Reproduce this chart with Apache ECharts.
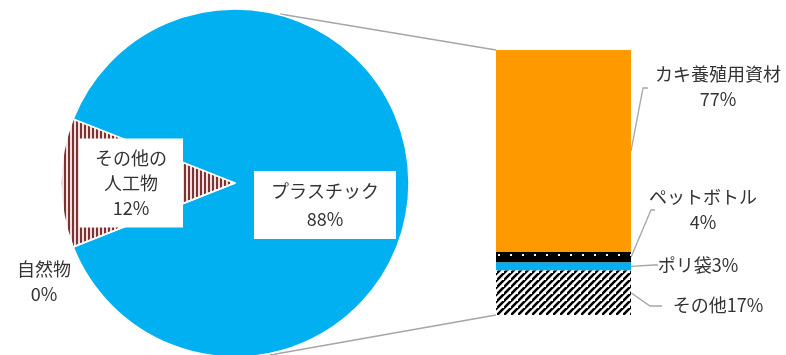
<!DOCTYPE html>
<html>
<head>
<meta charset="utf-8">
<script src="https://cdn.jsdelivr.net/npm/echarts@6/dist/echarts.min.js"></script>
<style>
  html, body { margin: 0; padding: 0; background: #fff; }
  #main { width: 786px; height: 355px; }
</style>
</head>
<body>
<div id="main"></div>
<script>
  // pie: what the litter is made of
  var pieNames = ['その他の\n人工物', 'プラスチック', '自然物'];
  var pieValues = [12, 88, 0];
  // bar: breakdown of the plastic part
  var barNames = ['カキ養殖用資材', 'ペットボトル', 'ポリ袋', 'その他'];
  var barValues = [77, 4, 3, 17];
  var barSep = ['\n', '\n', '', ''];

  var font = '"Noto Sans CJK JP", "Noto Sans", sans-serif';
  var pieCenter = [235, 183], pieR = 174;
  var gridLeft = 496, gridTop = 50, gridW = 135, gridBottom = 40;

  function pattern(w, h, draw) {
    var c = document.createElement('canvas');
    c.width = w; c.height = h;
    draw(c.getContext('2d'), w, h);
    return { image: c, repeat: 'repeat' };
  }
  // vertical brown stripes
  var stripeV = pattern(4, 4, function (g, w, h) {
    g.fillStyle = '#f3dede'; g.fillRect(0, 0, w, h);
    g.fillStyle = '#7a3434'; g.fillRect(0, 0, 2, h);
  });
  // black with small white dots
  var dots = pattern(12, 10, function (g, w, h) {
    g.fillStyle = '#000'; g.fillRect(0, 0, w, h);
    g.fillStyle = '#fff'; g.fillRect(6, 4, 2, 2);
  });
  // diagonal black hatch
  var hatch = pattern(7, 7, function (g, w, h) {
    g.fillStyle = '#fff'; g.fillRect(0, 0, w, h);
    g.strokeStyle = '#000'; g.lineWidth = 2.6;
    g.beginPath();
    g.moveTo(-1, h + 1); g.lineTo(w + 1, -1);
    g.moveTo(-1 - w, h + 1); g.lineTo(1, -1);
    g.moveTo(w - 1, 2 * h + 1); g.lineTo(2 * w + 1, h - 1);
    g.stroke();
  });

  var pieColors = [stripeV, '#00b0f0', '#8fbf5f'];
  var barColors = ['#ff9900', dots, '#00b0f0', hatch];
  // where each bar label sits (centre of its text), and the guide line's bend and end near it
  var barLabelPos = [[718, 87], [703, 210], [698, 265], [718, 305]];
  var barLineBend = [[643, 88], [651, 210], [654, 265], [650, 306]];
  var barLineEnd = [[648, 88], [655, 210], [658, 265], [662, 306]];
  var pieLabelShift = [[-14, 0], [0, 22]];

  var labelBase = {
    color: '#333',
    fontFamily: font,
    fontSize: 18,
    lineHeight: 25,
    align: 'center'
  };

  var chart = echarts.init(document.getElementById('main'));

  var barSeries = barValues.map(function (v, i) {
    return {
      name: barNames[i],
      type: 'bar',
      stack: 'p',
      barWidth: '100%',
      data: [v],
      itemStyle: { color: barColors[i] },
      label: Object.assign({
        show: true,
        position: 'right',
        formatter: barNames[i] + barSep[i] + v + '%'
      }, labelBase),
      labelLayout: {
        x: barLabelPos[i][0],
        y: barLabelPos[i][1],
        align: 'center',
        verticalAlign: 'middle'
      },
      silent: true
    };
  });

  var option = {
    animation: false,
    backgroundColor: '#fff',
    grid: { left: gridLeft, top: gridTop, width: gridW, bottom: gridBottom },
    xAxis: { type: 'category', data: ['プラスチック'], show: false },
    // inverse so the first part stacks from the top
    yAxis: { type: 'value', min: 0, max: 101, inverse: true, show: false },
    series: [{
      type: 'pie',
      center: pieCenter,
      radius: pieR,
      startAngle: 180 + 21.6,
      clockwise: true,
      avoidLabelOverlap: false,
      minShowLabelAngle: -1,
      itemStyle: { borderColor: '#fff', borderWidth: 1.5 },
      label: Object.assign({
        show: true,
        position: 'inside',
        formatter: '{b}\n{c}%',
        backgroundColor: '#fff'
      }, labelBase),
      labelLine: { show: false },
      labelLayout: function (p) {
        if (p.dataIndex === 2) {
          return { x: 44, y: 282, align: 'center', verticalAlign: 'middle' };
        }
        return { dx: pieLabelShift[p.dataIndex][0], dy: pieLabelShift[p.dataIndex][1] };
      },
      data: pieValues.map(function (v, i) {
        var d = { name: pieNames[i], value: v, itemStyle: { color: pieColors[i] } };
        if (i === 0) d.label = { padding: [7, 16, 7, 16] };
        if (i === 1) d.label = { padding: [6, 17, 6, 17], lineHeight: 28 };
        if (i === 2) d.label = { backgroundColor: 'transparent', padding: 0 };
        return d;
      }),
      silent: true
    }].concat(barSeries)
  };
  chart.setOption(option);

  // guide lines: start at the middle of each bar part, placed through the y axis.
  // added straight to zrender so the labels are not laid out a second time
  var zr = chart.getZr();
  var grey = '#a6a6a6';
  var barRight = gridLeft + gridW;
  var acc = 0;
  barValues.forEach(function (v, i) {
    var midY = chart.convertToPixel({ yAxisIndex: 0 }, acc + v / 2);
    acc += v;
    zr.add(new echarts.graphic.Polyline({
      silent: true,
      shape: { points: [[barRight, midY], barLineBend[i], barLineEnd[i]] },
      style: { stroke: grey, lineWidth: 1.3, fill: null }
    }));
  });
  var topY = chart.convertToPixel({ yAxisIndex: 0 }, 0);
  var botY = chart.convertToPixel({ yAxisIndex: 0 }, acc);
  zr.add(new echarts.graphic.Line({
    silent: true, z: -1,
    shape: { x1: 280, y1: 14, x2: gridLeft, y2: topY },
    style: { stroke: grey, lineWidth: 1.5 }
  }));
  zr.add(new echarts.graphic.Line({
    silent: true, z: -1,
    shape: { x1: 270, y1: 355, x2: gridLeft, y2: botY },
    style: { stroke: grey, lineWidth: 1.5 }
  }));
</script>
</body>
</html>
